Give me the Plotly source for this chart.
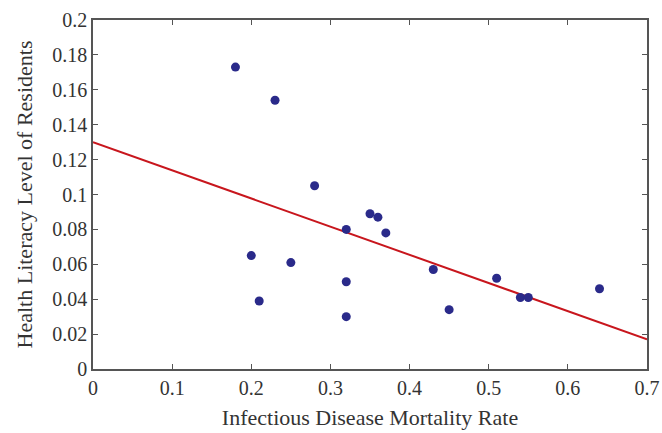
import plotly.graph_objects as go

mortality = [0.18, 0.23, 0.28, 0.20, 0.21, 0.25, 0.32, 0.32, 0.32, 0.35, 0.36, 0.37, 0.43, 0.45, 0.51, 0.54, 0.55, 0.64]
literacy = [0.173, 0.154, 0.105, 0.065, 0.039, 0.061, 0.080, 0.050, 0.030, 0.089, 0.087, 0.078, 0.057, 0.034, 0.052, 0.041, 0.041, 0.046]
fit_x = [0.0, 0.7]
fit_y = [0.130, 0.017]

fig = go.Figure()
fig.add_trace(go.Scatter(x=fit_x, y=fit_y, mode="lines",
                         line=dict(color="#C8161D", width=2), showlegend=False))
fig.add_trace(go.Scatter(x=mortality, y=literacy, mode="markers",
                         marker=dict(color="#2A2A8A", size=9), showlegend=False))

axis_common = dict(showgrid=False, zeroline=False, showline=True, linecolor="#555555",
                   linewidth=1.5, mirror="ticks", ticks="inside", ticklen=5,
                   tickcolor="#555555", automargin=False,
                   tickfont=dict(family="Liberation Serif", size=20, color="#333333"),
                   title_font=dict(family="Liberation Serif", size=22, color="#333333"))

fig.update_xaxes(range=[0, 0.7], tickvals=[0, 0.1, 0.2, 0.3, 0.4, 0.5, 0.6, 0.7],
                 ticktext=["0", "0.1", "0.2", "0.3", "0.4", "0.5", "0.6", "0.7"],
                 title_text="Infectious Disease Mortality Rate", title_standoff=12, **axis_common)
fig.update_yaxes(range=[0, 0.2], tickvals=[0, 0.02, 0.04, 0.06, 0.08, 0.1, 0.12, 0.14, 0.16, 0.18, 0.2],
                 ticktext=["0", "0.02", "0.04", "0.06", "0.08", "0.1", "0.12", "0.14", "0.16", "0.18", "0.2"],
                 title_text="Health Literacy Level of Residents", title_standoff=14, **axis_common)

fig.update_layout(width=662, height=433, margin=dict(l=93, r=15, t=20, b=64),
                  plot_bgcolor="white", paper_bgcolor="white")
fig.write_html("out.html", config={"displayModeBar": False},
               post_script="document.body.style.margin='0px';")
